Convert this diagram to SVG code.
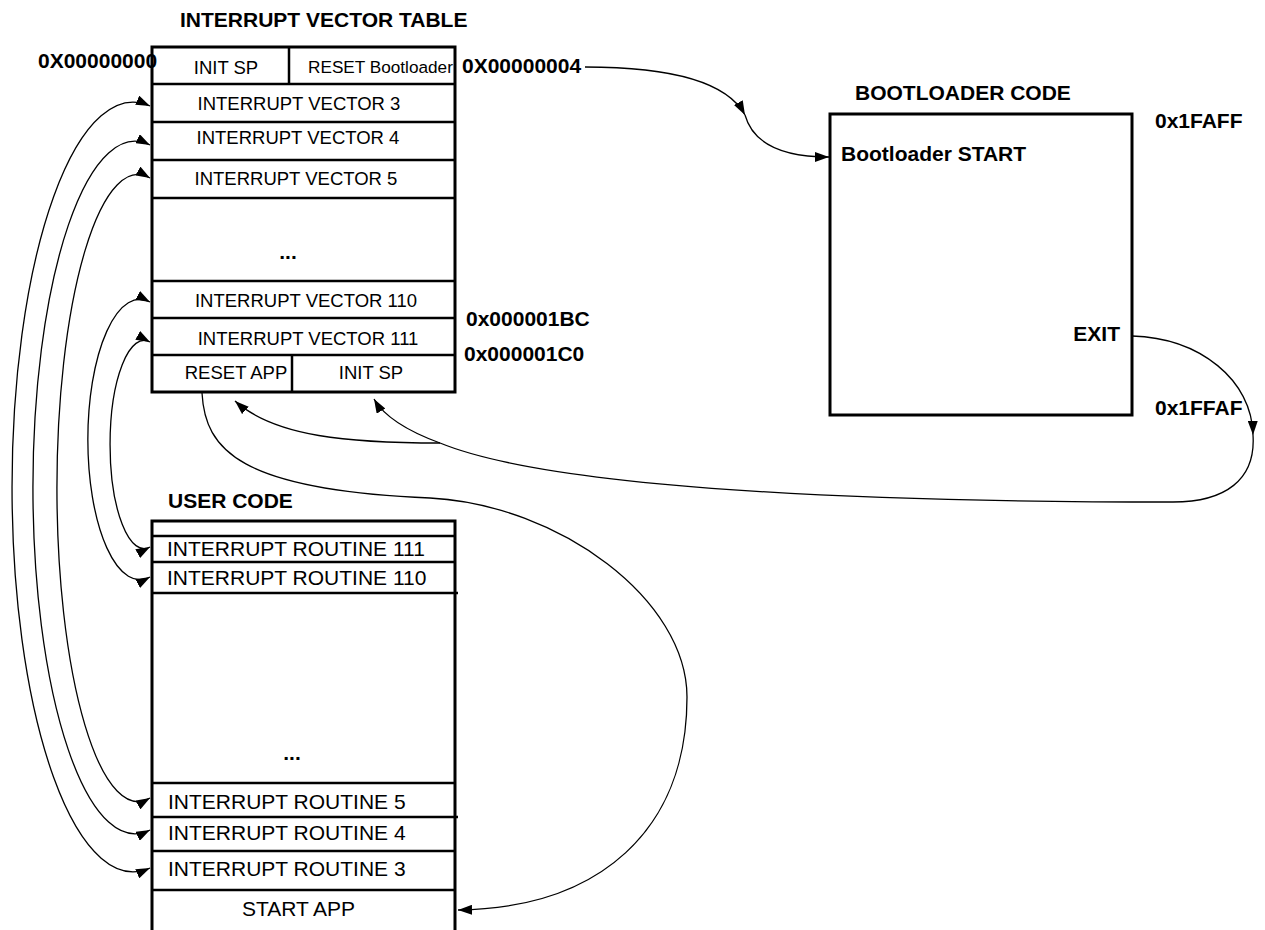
<svg xmlns="http://www.w3.org/2000/svg" width="1265" height="930" viewBox="0 0 1265 930">
<defs>
<style>
.bx{fill:#fff;stroke:#000;stroke-width:3}
.ln{stroke:#000;stroke-width:2.5;fill:none}
.t{font-family:"Liberation Sans",Arial,Helvetica,sans-serif;fill:#000}
.v{font-size:18.5px}
.r{font-size:21px}
.b{font-size:21px;font-weight:bold}
.m{text-anchor:middle}
.e{text-anchor:end}
.c{fill:none;stroke:#000;stroke-width:1.3}
.cs{fill:none;stroke:#000;stroke-width:1.3;marker-start:url(#ah);marker-end:url(#ah)}
.ce{fill:none;stroke:#000;stroke-width:1.3;marker-end:url(#ah)}
</style>
<marker id="ah" viewBox="0 0 14 10" refX="14" refY="5" markerWidth="14" markerHeight="10" markerUnits="userSpaceOnUse" orient="auto-start-reverse">
<path d="M0,0 L14,5 L0,10 z" fill="#000"/>
</marker>
</defs>
<rect width="1265" height="930" fill="#fff"/>

<g id="vector-table">
<text class="t b" x="180" y="26.5">INTERRUPT VECTOR TABLE</text>
<rect class="bx" x="152" y="47" width="303" height="345"/>
<line class="ln" x1="152" y1="84" x2="455" y2="84"/>
<line class="ln" x1="289" y1="47" x2="289" y2="84"/>
<line class="ln" x1="152" y1="122" x2="455" y2="122"/>
<line class="ln" x1="152" y1="160" x2="455" y2="160"/>
<line class="ln" x1="152" y1="198" x2="455" y2="198"/>
<line class="ln" x1="152" y1="281" x2="455" y2="281"/>
<line class="ln" x1="152" y1="318" x2="455" y2="318"/>
<line class="ln" x1="152" y1="355" x2="455" y2="355"/>
<line class="ln" x1="292" y1="355" x2="292" y2="392"/>
<text class="t v m" x="226" y="73.5">INIT SP</text>
<text class="t" x="308" y="72.5" style="font-size:17.2px">RESET Bootloader</text>
<text class="t v m" x="299" y="109.6">INTERRUPT VECTOR 3</text>
<text class="t v m" x="298" y="143.6">INTERRUPT VECTOR 4</text>
<text class="t v m" x="296" y="184.6">INTERRUPT VECTOR 5</text>
<text class="t b m" x="288" y="259">...</text>
<text class="t v m" x="306" y="306.6">INTERRUPT VECTOR 110</text>
<text class="t v m" x="308" y="344.6">INTERRUPT VECTOR 111</text>
<text class="t v m" x="236" y="378.6">RESET APP</text>
<text class="t v m" x="371" y="378.6">INIT SP</text>
</g>

<g id="addresses">
<text class="t b" x="38" y="67.5">0X00000000</text>
<text class="t b" x="462" y="72.5">0X00000004</text>
<text class="t b" x="466" y="325.5">0x000001BC</text>
<text class="t b" x="464" y="360.5">0x000001C0</text>
</g>

<g id="bootloader">
<text class="t b" x="855" y="99.5">BOOTLOADER CODE</text>
<rect class="bx" x="830" y="114" width="302" height="301"/>
<text class="t b" x="1155" y="127.5">0x1FAFF</text>
<text class="t b" x="841" y="160.5">Bootloader START</text>
<text class="t b e" x="1120" y="340.5">EXIT</text>
<text class="t b" x="1155" y="414.5">0x1FFAF</text>
</g>

<g id="user-code">
<text class="t b" x="168" y="507.5">USER CODE</text>
<path class="ln" d="M152,930 V521 H455 V930" style="stroke-width:3"/>
<line class="ln" x1="152" y1="536" x2="455" y2="536"/>
<line class="ln" x1="152" y1="562" x2="455" y2="562"/>
<line class="ln" x1="152" y1="593" x2="458" y2="593"/>
<line class="ln" x1="152" y1="783" x2="455" y2="783"/>
<line class="ln" x1="152" y1="817" x2="458" y2="817"/>
<line class="ln" x1="152" y1="851" x2="455" y2="851"/>
<line class="ln" x1="152" y1="890" x2="455" y2="890"/>
<text class="t r" x="167" y="555.5">INTERRUPT ROUTINE 111</text>
<text class="t r" x="167" y="584.5">INTERRUPT ROUTINE 110</text>
<text class="t b m" x="292" y="760">...</text>
<text class="t r" x="168" y="808.5">INTERRUPT ROUTINE 5</text>
<text class="t r" x="168" y="839.5">INTERRUPT ROUTINE 4</text>
<text class="t r" x="168" y="875.5">INTERRUPT ROUTINE 3</text>
<text class="t r m" x="298.5" y="915.5">START APP</text>
</g>

<g id="connectors">
<path class="cs" d="M150,868 A121,384.8 0 1 1 150,106"/>
<path class="cs" d="M150,830 A102,346.3 0 1 1 150,145"/>
<path class="cs" d="M150,798 A81,313.5 0 1 1 150,178"/>
<path class="cs" d="M150,577 A52,140.2 0 1 1 150,302"/>
<path class="cs" d="M150,547 A34,104.1 0 1 1 150,342"/>
<path class="ce" d="M585,67 C660,67 725,78 745,115"/>
<path class="ce" d="M745,115 C752,140 775,157 829,157"/>
<path class="ce" d="M1132,336 C1200,338 1252,380 1253,435"/>
<path class="ce" d="M1253,435 C1256,480 1225,502 1173,502 C900,502 560,492 440,443 C410,432 385,418 374,399"/>
<path class="ce" d="M440,443 C350,443 275,437 235,401"/>
<path class="ce" d="M202,393 C205,450 240,490 430,498 C560,505 687,600 687,697 C687,830 600,908 458,910"/>
</g>
</svg>
